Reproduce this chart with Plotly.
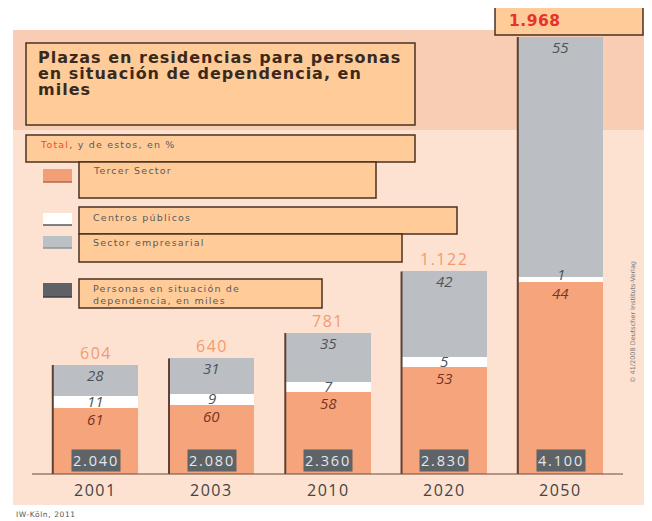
import plotly.graph_objects as go

# ---------------- data ----------------
years = ["2001", "2003", "2010", "2020", "2050"]
totales = [604, 640, 781, 1122, 1968]            # plazas, miles
tercer_sector = [61, 60, 58, 53, 44]              # %
centros_publicos = [11, 9, 7, 5, 1]               # %
sector_empresarial = [28, 31, 35, 42, 55]         # %
personas_dependencia = [2040, 2080, 2360, 2830, 4100]  # miles

series_names = ["Tercer Sector", "Centros públicos", "Sector empresarial"]
series_values = [tercer_sector, centros_publicos, sector_empresarial]
series_colors = ["#F6A47B", "#FFFFFF", "#BBBFC3"]


def fmt(v):
    return f"{v:,}".replace(",", ".")


# page body has an 8px margin: figure pixel = screen pixel - 8
OFF = 8
W, H = 644, 513


def px(x):
    return (x - OFF) / W


def py(y):
    return 1 - (y - OFF) / H


def ls(text, sp):
    return f"<span style='letter-spacing:{sp}px'>{text}</span>"


fig = go.Figure()

xs = list(range(len(years)))
BW = 0.735
# the last bar (2050) is drawn on its own, taller scale, as in the original
axis_of = ["y", "y", "y", "y", "y2"]

for name, vals, col in zip(series_names, series_values, series_colors):
    for ax in ["y", "y2"]:
        idx = [i for i in xs if axis_of[i] == ax]
        fig.add_trace(go.Bar(
            x=[xs[i] for i in idx],
            y=[totales[i] * vals[i] / 100 for i in idx],
            width=BW,
            marker=dict(color=col, line=dict(width=0)),
            name=name, showlegend=False, hoverinfo="skip",
            yaxis=ax,
        ))

shapes = []
# background panels
shapes.append(dict(type="rect", xref="paper", yref="paper", x0=px(13), x1=px(645),
                   y0=py(505), y1=py(30), fillcolor="#FDE2D2", line=dict(width=0), layer="below"))
shapes.append(dict(type="rect", xref="paper", yref="paper", x0=px(13), x1=px(645),
                   y0=py(130), y1=py(30), fillcolor="#F9CCB4", line=dict(width=0), layer="below"))

# left edge line of each bar + baseline
for i in xs:
    shapes.append(dict(type="line", xref="x", yref=axis_of[i], x0=i - BW / 2, x1=i - BW / 2,
                       y0=0, y1=totales[i], line=dict(color="#5C4033", width=2)))
shapes.append(dict(type="line", xref="paper", yref="y", x0=px(32), x1=px(623), y0=0, y1=0,
                   line=dict(color="#6A4A3A", width=1)))

BOX = "#FFCC99"
EDGE = "#4A3022"


def box(x0, y0, x1, y1):
    shapes.append(dict(type="rect", xref="paper", yref="paper", x0=px(x0), x1=px(x1),
                       y0=py(y1), y1=py(y0), fillcolor=BOX, line=dict(color=EDGE, width=1.5)))


box(26, 43, 415, 125)     # title
box(26, 135, 415, 162)    # Total, y de estos
box(79, 162, 376, 198)    # Tercer Sector
box(79, 207, 457, 234)    # Centros públicos
box(79, 234, 402, 262)    # Sector empresarial
box(79, 279, 322, 308)    # Personas
box(495, 7, 643, 35)      # 1.968

# legend swatches
sw = [(169, 182, "#F29F78", "#B06A4E"), (213, 225, "#FFFFFF", "#555A60"),
      (236, 248, "#BBC0C4", "#8E9498"), (283, 297, "#5E6266", "#3E4246")]
for y0, y1, c, lc in sw:
    shapes.append(dict(type="rect", xref="paper", yref="paper", x0=px(43), x1=px(72),
                       y0=py(y1), y1=py(y0), fillcolor=c, line=dict(width=0)))
    shapes.append(dict(type="line", xref="paper", yref="paper", x0=px(43), x1=px(72),
                       y0=py(y1), y1=py(y1), line=dict(color=lc, width=1.5)))

ann = []


def ptext(x, y, text, size, color, family="DejaVu Sans", xanchor="left", angle=0):
    ann.append(dict(xref="paper", yref="paper", x=px(x), y=py(y), text=text, showarrow=False,
                    xanchor=xanchor, yanchor="middle", textangle=angle,
                    font=dict(size=size, color=color, family=family)))


TITLE = "#3A2A1E"
ptext(36, 57, ls("<b>Plazas en residencias para personas</b>", 1.0), 16, TITLE)
ptext(36, 73, ls("<b>en situación de dependencia, en</b>", 1.0), 16, TITLE)
ptext(36, 89, ls("<b>miles</b>", 1.0), 16, TITLE)

LG = "#5A5A5A"
LSP = 1.2
ptext(38, 144, ls("<span style='color:#E8502A'>Total</span>, y de estos, en %", LSP), 9.5, LG)
ptext(91, 171, ls(series_names[0], LSP), 9.5, LG)
ptext(91, 217, ls(series_names[1], LSP), 9.5, LG)
ptext(91, 242, ls(series_names[2], LSP), 9.5, LG)
ptext(91, 288, ls("Personas en situación de", LSP), 9.5, LG)
ptext(91, 300, ls("dependencia, en miles", LSP), 9.5, LG)

ptext(507, 21, ls("<b>" + fmt(totales[-1]) + "</b>", 0.5), 15.5, "#E8332A")
ptext(633, 322, "© 41/2008 Deutscher Instituts-Verlag", 6.5, "#7A7A7A", xanchor="center", angle=-90)
ptext(14, 514, ls("IW-Köln, 2011", 0.6), 7.5, "#555555")

NUM = "Open Sans"
for i in xs:
    ax = axis_of[i]
    t = totales[i]
    ts, cp, se = tercer_sector[i], centros_publicos[i], sector_empresarial[i]
    o_top = t * ts / 100
    w_top = t * (ts + cp) / 100
    # grey share
    ann.append(dict(xref="x", yref=ax, x=i, y=t, yshift=-10, text=f"<i>{se}</i>", showarrow=False,
                    yanchor="middle", font=dict(size=15, color="#4E5358", family=NUM)))
    # white share
    ann.append(dict(xref="x", yref=ax, x=i, y=(o_top + w_top) / 2, yshift=6 if cp < 3 else 1,
                    text=f"<i>{cp}</i>", showarrow=False, yanchor="middle",
                    font=dict(size=15, color="#4E5358", family=NUM)))
    # orange share
    ann.append(dict(xref="x", yref=ax, x=i, y=o_top, yshift=-11, text=f"<i>{ts}</i>", showarrow=False,
                    yanchor="middle", font=dict(size=15, color="#7A3524", family=NUM)))
    # total above bar
    if i < len(xs) - 1:
        ann.append(dict(xref="x", yref=ax, x=i, y=t, yshift=12, text=ls(fmt(t), 1.5), showarrow=False,
                        yanchor="middle", font=dict(size=16, color="#F29A6E", family=NUM)))
    # persons in dependency (dark label)
    ann.append(dict(xref="x", yref="y", x=i, y=0, yshift=14, text=ls(fmt(personas_dependencia[i]), 1.8),
                    showarrow=False, yanchor="middle", bgcolor="#5E6367", borderpad=1,
                    font=dict(size=14.5, color="#E2E8EC", family=NUM)))
    # year label
    ann.append(dict(xref="x", yref="y", x=i, y=0, yshift=-16, text=ls(years[i], 1.5), showarrow=False,
                    yanchor="middle", font=dict(size=16, color="#444444", family=NUM)))

# scales: baseline 47 px above the bottom of the figure
s1 = 0.1805
s2 = 437 / 1968
base_px = 47
r1 = [-base_px / s1, (H - base_px) / s1]
r2 = [-base_px / s2, (H - base_px) / s2]
x0c = (95.5 - OFF) / 116.25

fig.update_layout(
    width=W, height=H,
    margin=dict(l=0, r=0, t=0, b=0),
    paper_bgcolor="white", plot_bgcolor="rgba(0,0,0,0)",
    barmode="stack", bargap=0,
    xaxis=dict(range=[-x0c, -x0c + W / 116.25], visible=False, fixedrange=True),
    yaxis=dict(range=r1, visible=False, fixedrange=True),
    yaxis2=dict(range=r2, visible=False, overlaying="y", fixedrange=True),
    shapes=shapes, annotations=ann,
    showlegend=False,
)

fig.write_html("out.html")
